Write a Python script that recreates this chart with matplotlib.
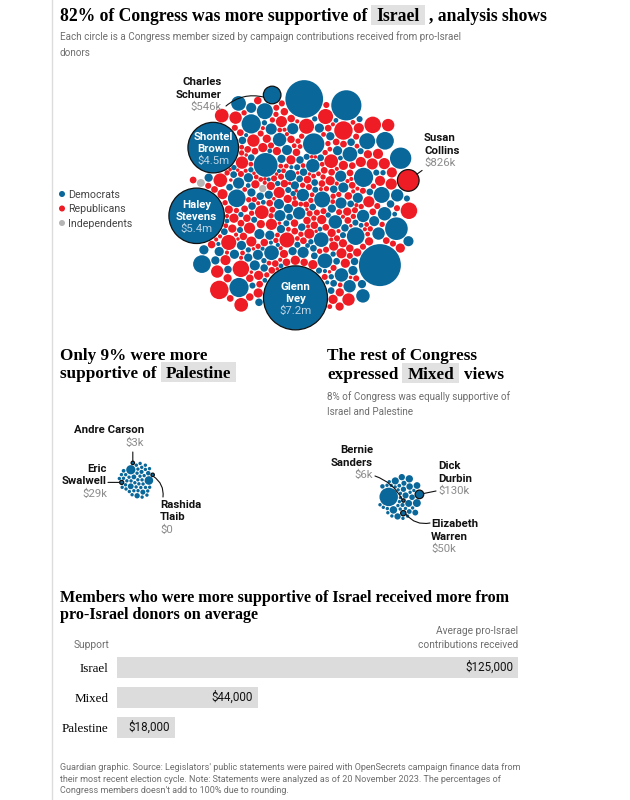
import numpy as np
import matplotlib
matplotlib.use("Agg")
import matplotlib.pyplot as plt
from matplotlib.patches import Circle, Rectangle

# ---------------- data (contributions in $ thousands) ----------------
# Israel-supportive members that are labelled on the chart
israel_named = ["Glenn Ivey", "Haley Stevens", "Shontel Brown", "Charles Schumer", "Susan Collins"]
israel_named_party = ["D", "D", "D", "D", "R"]
israel_named_k = [7200, 5400, 4500, 546, 826]

# other large Democrat circles (not labelled)
dem_big_k = [3100, 2500, 1600]

# the rest of the Israel group
dem_group_k = [1000, 900, 800, 650, 550, 450, 380, 320, 270, 220, 180, 150, 120, 100, 80, 65, 50, 40, 30]
dem_group_count = [1, 1, 2, 3, 4, 4, 5, 6, 6, 8, 10, 10, 12, 14, 16, 16, 14, 12, 10]
rep_group_k = [600, 480, 400, 330, 270, 220, 180, 150, 120, 100, 80, 65, 50, 40, 30, 22]
rep_group_count = [2, 3, 4, 5, 6, 8, 10, 14, 18, 20, 28, 30, 32, 32, 30, 24]
ind_k = [110, 95]

# Palestine-supportive members
palestine_named = ["Andre Carson", "Eric Swalwell", "Rashida Tlaib"]
palestine_named_k = [3, 29, 0]
palestine_other_k = [150, 130, 60, 50, 45, 40, 35, 30, 25, 20, 20, 15, 15, 12, 10, 10, 8, 8,
                     6, 5, 5, 4, 3, 2, 2, 1, 1, 0, 0, 0, 0, 0, 0, 0, 0, 0, 0, 0, 0, 0, 0, 0, 0, 0, 0]

# Mixed members
mixed_named = ["Bernie Sanders", "Dick Durbin", "Elizabeth Warren"]
mixed_named_k = [6, 130, 50]
mixed_other_k = [600, 110, 100, 95, 90, 85, 80, 75, 70, 70, 65, 60, 55, 50, 45, 40, 35, 30, 25,
                 20, 20, 15, 12, 10, 8, 6, 5, 4, 3, 2, 1, 0, 0, 0, 0, 0, 0, 0, 0, 0]

# bar chart
bar_groups = ["Israel", "Mixed", "Palestine"]
bar_avg = [125000, 44000, 18000]

# ---------------- style ----------------
SERIF = "Liberation Serif"
SANS = "Roboto"
DEM = "#0a6799"
REP = "#ee1c25"
IND = "#b5b5b5"
PARTY_COLOR = {"D": DEM, "R": REP, "I": IND}
GREY = "#6e6e6e"
VALGREY = "#8c8c8c"
RSCALE = 32 / np.sqrt(7200)
RMIN = 1.7


def radius(k):
    return np.maximum(RMIN, RSCALE * np.sqrt(np.asarray(k, float)))


def fmt_k(k):
    if k >= 1000:
        return f"${k / 1000:.1f}m"
    if k == 0:
        return "$0"
    return f"${k:g}k"


def mix_order(n):
    # low-discrepancy interleave so sizes / parties are spread through the pack
    return list(np.argsort((np.arange(n) * 0.6180339887) % 1.0, kind="stable"))


def build(regular, named, tail, lead=()):
    """sequence of (k, party, name): interleaved regulars, then the tail slots (outer ring)"""
    n = len(regular)
    fixed = {t % n for t in list(tail) + list(lead) if isinstance(t, int)}
    rest = [j for j in mix_order(n) if j not in fixed]
    n_fill = list(tail).count(None)
    head, fill = rest[:len(rest) - n_fill], iter(rest[len(rest) - n_fill:])
    seq = [(regular[j][0], regular[j][1], None) for j in head]
    for pos, t in enumerate(lead):
        seq.insert(pos * 3 + 2, (named[t][0], named[t][1], t))
    for t in tail:
        if t is None:
            j = next(fill)
            seq.append((regular[j][0], regular[j][1], None))
        elif isinstance(t, int):
            seq.append((regular[t % n][0], regular[t % n][1], None))
        else:
            seq.append((named[t][0], named[t][1], t))
    ks = [s[0] for s in seq]
    return ks, [s[1] for s in seq], [s[2] for s in seq]


def pack_circles(r, pad=1.0, ticks=300):
    """small force layout: centering pull + collision, d3-force style"""
    r = np.asarray(r, float)
    n = len(r)
    s = np.sqrt((r ** 2).sum() / n) * 1.3
    i = np.arange(n)
    x = s * np.sqrt(0.5 + i) * np.cos(i * np.pi * (3 - np.sqrt(5)))
    y = s * np.sqrt(0.5 + i) * np.sin(i * np.pi * (3 - np.sqrt(5)))
    vx = np.zeros(n)
    vy = np.zeros(n)
    rr = r + pad / 2
    R = rr[:, None] + rr[None, :]
    r2 = r ** 2
    w = r2[None, :] / (r2[:, None] + r2[None, :])
    eye = np.eye(n, dtype=bool)
    alpha = 1.0
    decay = 1 - 0.001 ** (1 / ticks)
    for _ in range(ticks):
        alpha += (0 - alpha) * decay
        vx -= x * 0.1 * alpha
        vy -= y * 0.1 * alpha
        for _ in range(2):
            px = x + vx
            py = y + vy
            dx = px[None, :] - px[:, None]
            dy = py[None, :] - py[:, None]
            d = np.sqrt(dx * dx + dy * dy)
            ov = R - d
            m = (ov > 0) & ~eye
            l = np.where(m, ov / np.maximum(d, 1e-9) * 0.7, 0) * w
            vx -= (dx * l).sum(1)
            vy -= (dy * l).sum(1)
        vx *= 0.6
        vy *= 0.6
        x += vx
        y += vy
    for _ in range(300):
        dx = x[None, :] - x[:, None]
        dy = y[None, :] - y[:, None]
        d = np.sqrt(dx * dx + dy * dy)
        ov = R - d
        m = (ov > 0.02) & ~eye
        if not m.any():
            break
        l = np.where(m, ov / np.maximum(d, 1e-9) * 0.5, 0) * w
        x -= (dx * l).sum(1)
        y -= (dy * l).sum(1)
    return x, y


def orient(x, y, i_ref, angle):
    # rotate the pack so circle i_ref sits at the given angle (screen coords, y down)
    t = angle - np.arctan2(y[i_ref], x[i_ref])
    return x * np.cos(t) - y * np.sin(t), x * np.sin(t) + y * np.cos(t)


def place(x, y, r, cx, cy):
    x0 = (np.min(x - r) + np.max(x + r)) / 2
    y0 = (np.min(y - r) + np.max(y + r)) / 2
    return x - x0 + cx, y - y0 + cy


# ---------------- build groups ----------------
isr_regular = ([(k, "D") for k in np.repeat(dem_group_k, dem_group_count)]
               + [(k, "R") for k in np.repeat(rep_group_k, rep_group_count)]
               + [(k, "I") for k in ind_k] + [(k, "D") for k in dem_big_k])
isr_named = {nm: (k, p) for nm, k, p in zip(israel_named, israel_named_k, israel_named_party)}
isr_tail = ["Charles Schumer", None, None, None, None, "Shontel Brown", "Susan Collins", None,
            -2, -3, "Haley Stevens", -1, "Glenn Ivey"]
isr_k, isr_p, isr_names = build(isr_regular, isr_named, isr_tail)
isr_r = radius(isr_k)
ix, iy = pack_circles(isr_r)
idx = {nm: j for j, nm in enumerate(isr_names) if nm}
ix, iy = orient(ix, iy, idx["Glenn Ivey"], np.pi / 2)
ix, iy = place(ix, iy, isr_r, 294, 205)

pal_regular = [(k, "D") for k in palestine_other_k]
pal_named = {nm: (k, "D") for nm, k in zip(palestine_named, palestine_named_k)}
pal_tail = [0, 1, None, None, None, None, "Rashida Tlaib", None, "Andre Carson", None, "Eric Swalwell"]
pal_k, _, pal_names = build(pal_regular, pal_named, pal_tail)
pal_r = radius(pal_k)
px_, py_ = pack_circles(pal_r, pad=0.8)
pidx = {nm: j for j, nm in enumerate(pal_names) if nm}
px_, py_ = orient(px_, py_, pidx["Eric Swalwell"], np.radians(170))
px_, py_ = place(px_, py_, pal_r, 136, 480)

mix_regular = [(k, "D") for k in mixed_other_k]
mix_named = {nm: (k, "D") for nm, k in zip(mixed_named, mixed_named_k)}
mix_tail = ["Elizabeth Warren"] + [None] * 9 + ["Dick Durbin", None, None, None, 0]
mix_k, _, mix_names = build(mix_regular, mix_named, mix_tail, lead=["Bernie Sanders"])
mix_r = radius(mix_k)
mx_, my_ = pack_circles(mix_r, pad=0.8)
midx = {nm: j for j, nm in enumerate(mix_names) if nm}
mx_, my_ = orient(mx_, my_, len(mix_k) - 1, np.pi)
mx_, my_ = place(mx_, my_, mix_r, 401, 497)

# ---------------- figure ----------------
fig = plt.figure(figsize=(6.3, 8.0), dpi=100)
fig.patch.set_facecolor("white")
ax = fig.add_axes([0, 0, 1, 1])
ax.set_xlim(0, 630)
ax.set_ylim(800, 0)
ax.axis("off")
renderer = fig.canvas.get_renderer()

ax.plot([52, 52], [0, 800], color="#dcdcdc", lw=1, zorder=0)


def text_w(t):
    return t.get_window_extent(renderer).width


def headline(x, y, parts, size=12.3):
    for txt, hl in parts:
        if hl:
            x += 4
            t = ax.text(x + 5, y, txt, fontsize=size, fontweight="bold", family=SERIF, va="baseline", zorder=3)
            w = text_w(t)
            ax.add_patch(Rectangle((x, y - 16), w + 10, 20, fc="#e1e1e1", ec="none", zorder=2))
            x += w + 10 + 4
        else:
            t = ax.text(x, y, txt, fontsize=size, fontweight="bold", family=SERIF, va="baseline", zorder=3)
            x += text_w(t)
    return x


def draw_circles(xs, ys, rs, colors, names):
    for x, y, r, c, nm in zip(xs, ys, rs, colors, names):
        ax.add_patch(Circle((x, y), r, fc=c, ec="#111111" if nm else "none", lw=0.9 if nm else 0, zorder=4))


def label_block(x, y, lines, value, ha):
    for j, ln in enumerate(lines):
        ax.text(x, y + 12.5 * j, ln, fontsize=8.2, fontweight="bold", family=SANS, ha=ha, va="baseline",
                color="#121212", zorder=6)
    ax.text(x, y + 12.5 * len(lines), value, fontsize=8.2, family=SANS, ha=ha, va="baseline", color=VALGREY, zorder=6)


def leader(x0, y0, cx, cy, r, rad=0.0):
    d = np.hypot(x0 - cx, y0 - cy)
    ex, ey = cx + (x0 - cx) / d * r, cy + (y0 - cy) / d * r
    ax.annotate("", xy=(ex, ey), xytext=(x0, y0),
                arrowprops=dict(arrowstyle="-", color="#111111", lw=0.8, shrinkA=0, shrinkB=0,
                                connectionstyle=f"arc3,rad={rad}"), zorder=7)


# ---- titles ----
headline(60, 21, [("82% of Congress was more supportive of", False), ("Israel", True), (", analysis shows", False)],
         size=12.7)
ax.text(60, 40, "Each circle is a Congress member sized by campaign contributions received from pro-Israel",
        fontsize=7.1, family=SANS, color=GREY, va="baseline")
ax.text(60, 56, "donors", fontsize=7.1, family=SANS, color=GREY, va="baseline")

# ---- legend ----
for j, (lab, c) in enumerate([("Democrats", DEM), ("Republicans", REP), ("Independents", IND)]):
    ax.add_patch(Circle((62, 194 + 14.5 * j), 3, fc=c, ec="none"))
    ax.text(68, 198 + 14.5 * j, lab, fontsize=7.7, family=SANS, color="#444444", va="baseline")

# ---- Israel cluster ----
draw_circles(ix, iy, isr_r, [PARTY_COLOR[p] for p in isr_p], isr_names)
for nm in ["Glenn Ivey", "Haley Stevens", "Shontel Brown"]:
    j = idx[nm]
    first, last = nm.split(" ", 1)
    for k, (ln, col, fw) in enumerate([(first, "white", "bold"), (last, "white", "bold"),
                                       (fmt_k(isr_k[j]), "#bcd3e3", "normal")]):
        ax.text(ix[j], iy[j] - 7.5 + 12 * k, ln, fontsize=8.2, fontweight=fw, family=SANS, color=col,
                ha="center", va="baseline", zorder=6)

j = idx["Charles Schumer"]
label_block(222, 85, ["Charles", "Schumer"], fmt_k(isr_k[j]), "right")
leader(226, 106, ix[j], iy[j], isr_r[j], rad=-0.25)
j = idx["Susan Collins"]
cx, cy, cr = ix[j], iy[j], isr_r[j]
label_block(cx + cr + 5, cy - 39, ["Susan", "Collins"], fmt_k(isr_k[j]), "left")
leader(cx + cr + 3, cy - 10, cx, cy, cr)

# ---- Palestine ----
headline(60, 360, [("Only 9% were more", False)])
headline(60, 378, [("supportive of", False), ("Palestine", True)])
draw_circles(px_, py_, pal_r, [DEM] * len(pal_r), pal_names)

j = pidx["Andre Carson"]
label_block(144, 433, ["Andre Carson"], fmt_k(pal_k[j]), "right")
leader(px_[j], 452, px_[j], py_[j], pal_r[j])
j = pidx["Eric Swalwell"]
label_block(107, 472, ["Eric", "Swalwell"], fmt_k(pal_k[j]), "right")
leader(108, py_[j], px_[j], py_[j], pal_r[j])
j = pidx["Rashida Tlaib"]
label_block(160, 508, ["Rashida", "Tlaib"], fmt_k(pal_k[j]), "left")
leader(163, 497, px_[j], py_[j], pal_r[j], rad=0.3)

# ---- Mixed ----
headline(327, 360, [("The rest of Congress", False)])
x_after = headline(327, 379, [("expressed", False), ("Mixed", True)])
headline(x_after + 1, 379, [("views", False)])
ax.text(327, 400, "8% of Congress was equally supportive of", fontsize=7.1, family=SANS, color=GREY, va="baseline")
ax.text(327, 415, "Israel and Palestine", fontsize=7.1, family=SANS, color=GREY, va="baseline")
draw_circles(mx_, my_, mix_r, [DEM] * len(mix_r), mix_names)

j = midx["Bernie Sanders"]
label_block(373, 453, ["Bernie", "Sanders"], fmt_k(mix_k[j]), "right")
leader(375, 476, mx_[j], my_[j], mix_r[j], rad=-0.2)
j = midx["Dick Durbin"]
label_block(438, 469, ["Dick", "Durbin"], fmt_k(mix_k[j]), "left")
leader(436, 491, mx_[j], my_[j], mix_r[j])
j = midx["Elizabeth Warren"]
label_block(431, 527, ["Elizabeth", "Warren"], fmt_k(mix_k[j]), "left")
leader(430, 523, mx_[j], my_[j], mix_r[j], rad=-0.3)

# ---- bar chart ----
headline(60, 602, [("Members who were more supportive of Israel received more from", False)], size=11.6)
headline(60, 619, [("pro-Israel donors on average", False)], size=11.6)
ax.text(109, 648, "Support", fontsize=7.3, family=SANS, color=GREY, ha="right", va="baseline")
ax.text(518, 634, "Average pro-Israel", fontsize=7.3, family=SANS, color=GREY, ha="right", va="baseline")
ax.text(518, 648, "contributions received", fontsize=7.3, family=SANS, color=GREY, ha="right", va="baseline")

axb = fig.add_axes([117 / 630, 1 - 742.5 / 800, 401 / 630, 90 / 800])
axb.barh(range(len(bar_groups)), bar_avg, height=0.7, color="#dcdcdc")
axb.set_xlim(0, max(bar_avg))
axb.set_ylim(len(bar_groups) - 0.5, -0.5)
axb.set_xticks([])
axb.set_yticks(range(len(bar_groups)))
axb.set_yticklabels(bar_groups, family=SERIF, fontsize=9.4, color="#000000")
axb.tick_params(axis="y", length=0, pad=6)
for s in axb.spines.values():
    s.set_visible(False)
axb.patch.set_alpha(0)
for i, v in enumerate(bar_avg):
    axb.annotate(f"${v:,}", (v, i), xytext=(-3.5, 0), textcoords="offset points", ha="right", va="center",
                 fontsize=8.4, family=SANS, color="#121212")

# ---- footer ----
foot = ["Guardian graphic. Source: Legislators' public statements were paired with OpenSecrets campaign finance data from",
        "their most recent election cycle. Note: Statements were analyzed as of 20 November 2023. The percentages of",
        "Congress members doesn't add to 100% due to rounding."]
for j, ln in enumerate(foot):
    ax.text(60, 770 + 11.5 * j, ln, fontsize=6.45, family=SANS, color=GREY, va="baseline")

fig.savefig("out.png", dpi=100, facecolor="white")
